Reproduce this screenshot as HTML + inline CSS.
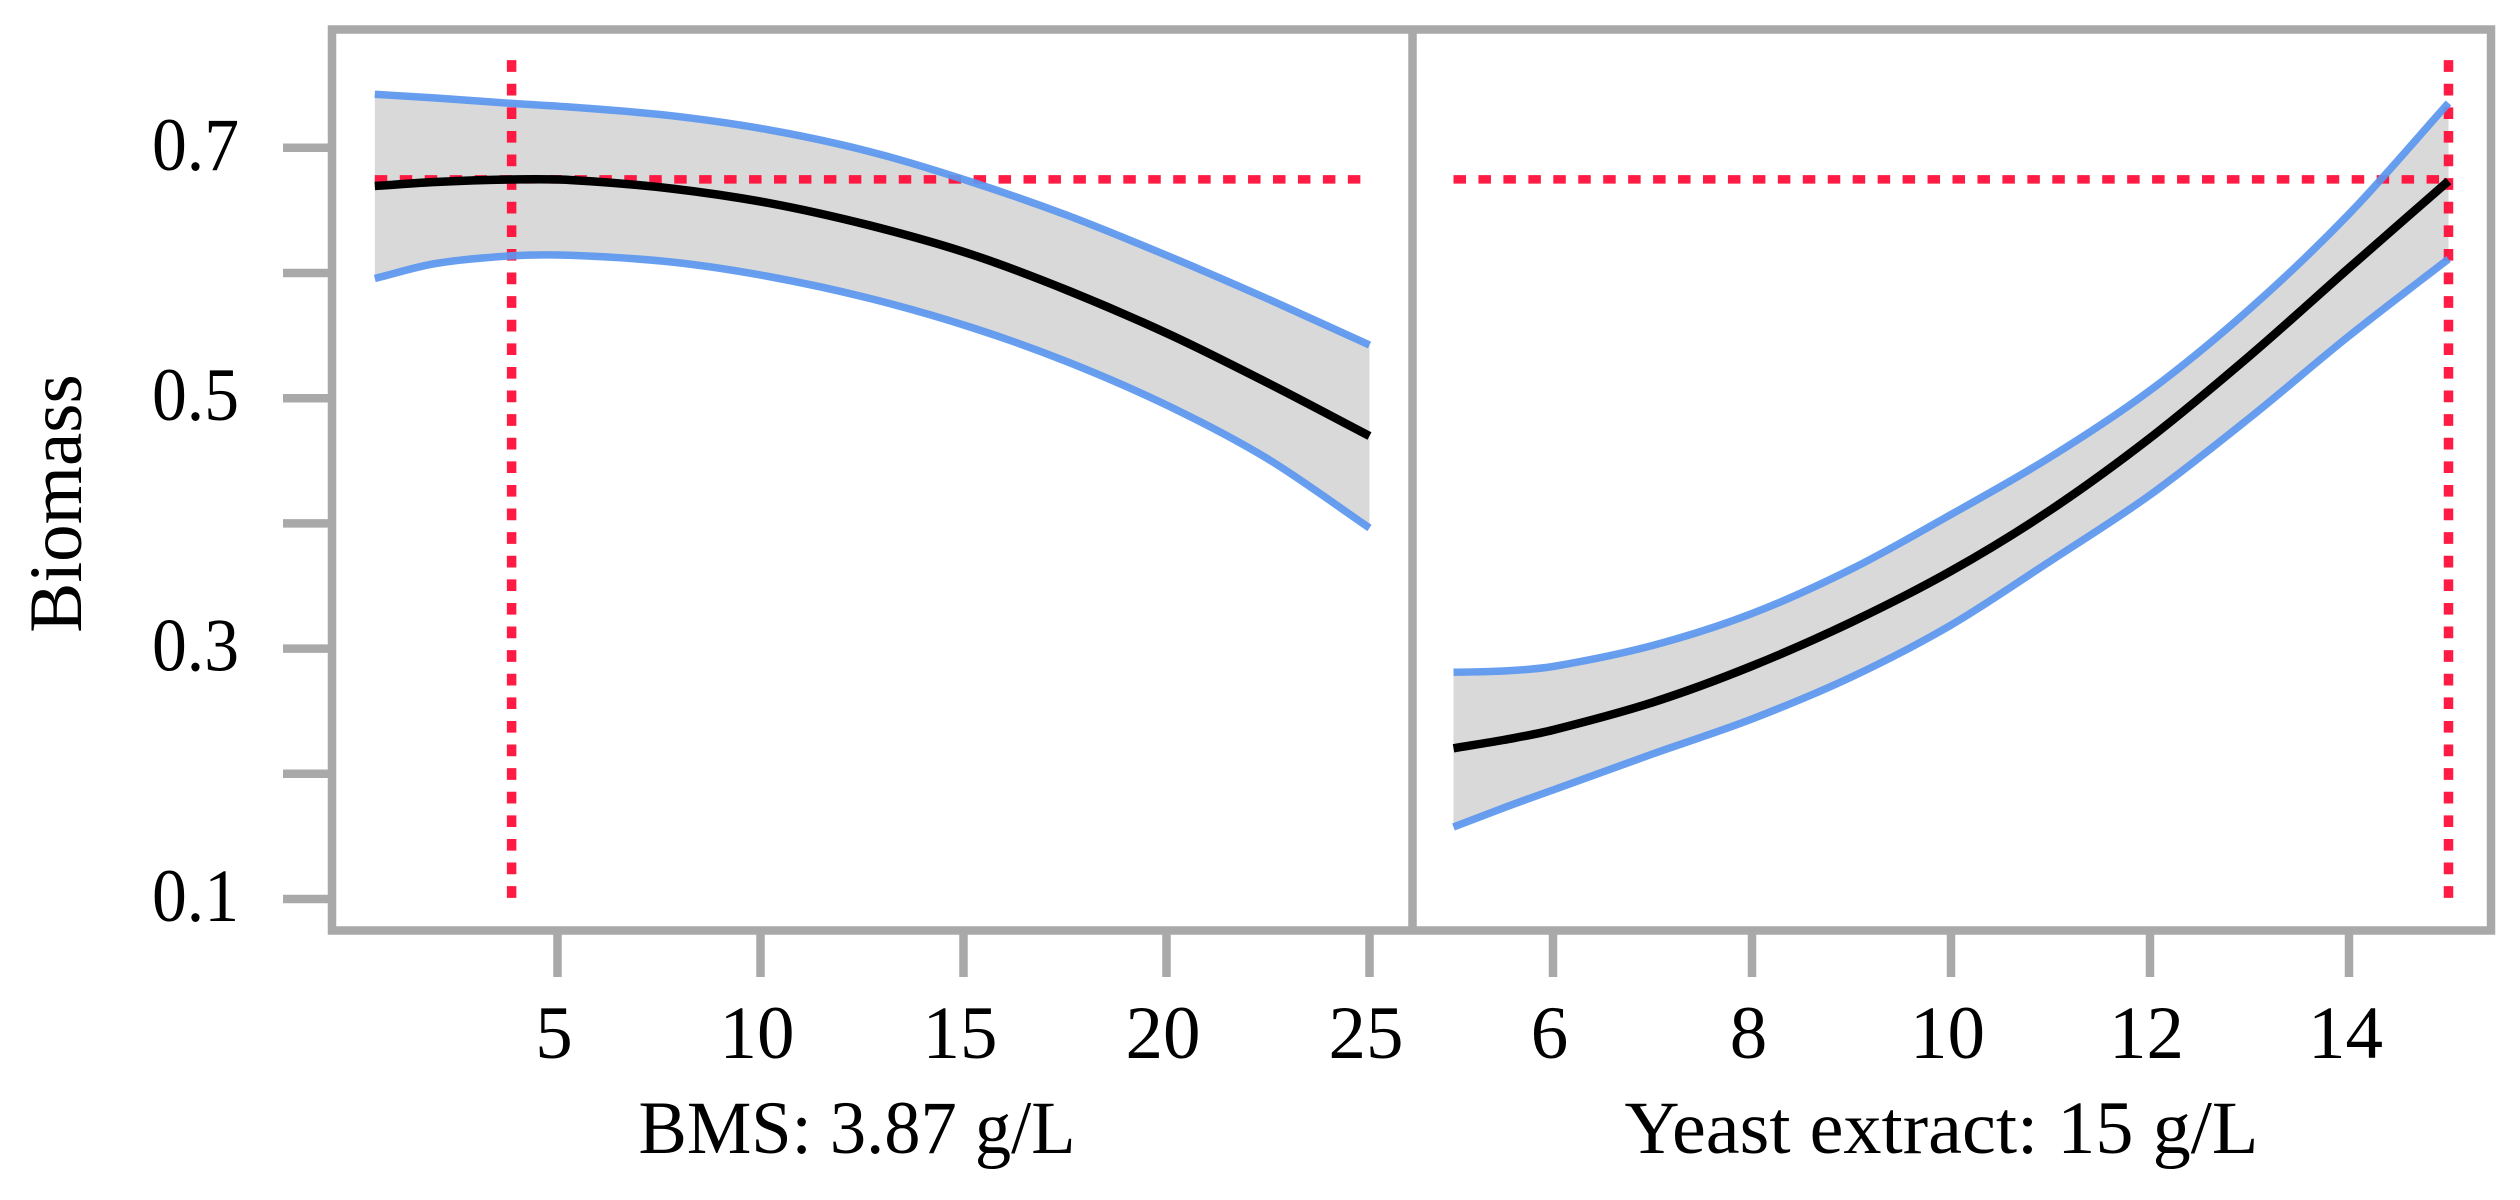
<!DOCTYPE html>
<html lang="en">
<head>
<meta charset="utf-8">
<title>Biomass prediction profiler</title>
<style>
html,body{margin:0;padding:0;background:#fff;width:2520px;height:1200px;overflow:hidden}
svg{display:block}
text{font-family:"Liberation Serif",serif;font-size:75px;fill:#000}
</style>
</head>
<body>
<svg id="chart" xmlns="http://www.w3.org/2000/svg" width="2520" height="1200" viewBox="0 0 2520 1200">
  <rect x="0" y="0" width="2520" height="1200" fill="#fff"/>
  <g id="marks"></g>
  <g id="axes"></g>
  <text transform="translate(81 503.5) rotate(-90)" text-anchor="middle">Biomass</text>
  <text x="638.5" y="1153" textLength="437" lengthAdjust="spacingAndGlyphs">BMS: 3.87 g/L</text>
  <text x="1624.5" y="1153" textLength="634" lengthAdjust="spacingAndGlyphs">Yeast extract: 15 g/L</text>
</svg>
<script>
const bmsValues = [0.5, 2, 3.87, 5.3, 7.8, 10.2, 12.7, 15.2, 17.6, 20.1, 22.5, 25];
const bmsUpper = [0.7427, 0.7398, 0.7355, 0.7326, 0.7256, 0.7144, 0.6969, 0.6727, 0.6455, 0.6128, 0.5792, 0.5425];
const bmsMean = [0.6695, 0.6727, 0.6747, 0.6743, 0.6675, 0.6559, 0.6379, 0.6148, 0.5856, 0.5505, 0.5121, 0.4698];
const bmsLower = [0.5956, 0.6076, 0.6137, 0.6141, 0.6088, 0.5972, 0.5796, 0.5565, 0.5285, 0.4930, 0.4514, 0.3963];

const yeastValues = [5, 5.5, 6, 7, 8, 9, 10, 11, 12, 13, 14, 15];
const yeastUpper = [0.2811, 0.2821, 0.2857, 0.3025, 0.3280, 0.3636, 0.4071, 0.4530, 0.5062, 0.5712, 0.6471, 0.7358];
const yeastMean = [0.2204, 0.2270, 0.2350, 0.2570, 0.2861, 0.3212, 0.3620, 0.4107, 0.4682, 0.5337, 0.6040, 0.6735];
const yeastLower = [0.1575, 0.1727, 0.1871, 0.2158, 0.2438, 0.2773, 0.3188, 0.3700, 0.4227, 0.4842, 0.5497, 0.6112];

const biomassTicks = [0.1, 0.2, 0.3, 0.4, 0.5, 0.6, 0.7];
const biomassTickLabels = ['0.1', '', '0.3', '', '0.5', '', '0.7'];
const bmsTicks = [5, 10, 15, 20, 25];
const yeastTicks = [6, 8, 10, 12, 14];

const optimumBiomass = 0.6748;
const optimumBms = 3.87;
const optimumYeast = 15;
const crosshairTop = 0.77;
const crosshairBottom = 0.1;

const NS = 'http://www.w3.org/2000/svg';
const yScale = v => 899 - (v - 0.1) * 1252;
const xBms = v => 963.5 + (v - 15) * 40.6;
const xYeast = v => 1951 + (v - 10) * 99.5;

const marks = document.getElementById('marks');
const axes = document.getElementById('axes');

function make(tag, attrs, parent) {
  const el = document.createElementNS(NS, tag);
  for (const k in attrs) el.setAttribute(k, attrs[k]);
  parent.appendChild(el);
  return el;
}

function smooth(xs, ys) {
  const n = xs.length;
  const m = xs.map((x, i) => {
    const a = Math.max(i - 1, 0), b = Math.min(i + 1, n - 1);
    return (ys[b] - ys[a]) / (xs[b] - xs[a]);
  });
  let d = 'M' + xs[0].toFixed(1) + ' ' + ys[0].toFixed(1);
  for (let i = 0; i < n - 1; i++) {
    const dx = xs[i + 1] - xs[i];
    const c1x = xs[i] + dx / 3, c1y = ys[i] + m[i] * dx / 3;
    const c2x = xs[i + 1] - dx / 3, c2y = ys[i + 1] - m[i + 1] * dx / 3;
    d += 'C' + c1x.toFixed(1) + ' ' + c1y.toFixed(1) + ' ' + c2x.toFixed(1) + ' ' + c2y.toFixed(1) + ' ' + xs[i + 1].toFixed(1) + ' ' + ys[i + 1].toFixed(1);
  }
  return d;
}

function bandPath(xs, upper, lower) {
  const up = smooth(xs, upper);
  const rx = xs.slice().reverse(), rl = lower.slice().reverse();
  return up + 'L' + rx[0].toFixed(1) + ' ' + rl[0].toFixed(1) + smooth(rx, rl).replace(/^M[^C]*/, '') + 'Z';
}

const blue = {fill: 'none', stroke: '#5b97ee', 'stroke-width': 7.5, 'stroke-opacity': 0.93};
const black = {fill: 'none', stroke: '#000', 'stroke-width': 8.5};
const redColor = '#ff0f3a';

/* BMS panel */
const bmsX = bmsValues.map(xBms);
const bmsBand = make('path', {d: bandPath(bmsX, bmsUpper.map(yScale), bmsLower.map(yScale)), fill: '#d9d9d9'}, marks);



const bmsHLine = make('line', {x1: xBms(bmsValues[0]), x2: xBms(bmsValues[bmsValues.length - 1]), y1: yScale(optimumBiomass), y2: yScale(optimumBiomass), stroke: redColor, 'stroke-opacity': 0.95, 'stroke-width': 8.5, 'stroke-dasharray': '12.5 12.45'}, marks);



const bmsVLine = make('line', {x1: xBms(optimumBms), x2: xBms(optimumBms), y1: yScale(crosshairTop), y2: yScale(crosshairBottom), stroke: redColor, 'stroke-opacity': 0.95, 'stroke-width': 9.5, 'stroke-dasharray': '11.7 11.9'}, marks);



const bmsUpperLine = make('path', Object.assign({d: smooth(bmsX, bmsUpper.map(yScale))}, blue), marks);



const bmsLowerLine = make('path', Object.assign({d: smooth(bmsX, bmsLower.map(yScale))}, blue), marks);



const bmsMeanLine = make('path', Object.assign({d: smooth(bmsX, bmsMean.map(yScale))}, black), marks);



/* Yeast panel */
const yeastX = yeastValues.map(xYeast);
const yeastBand = make('path', {d: bandPath(yeastX, yeastUpper.map(yScale), yeastLower.map(yScale)), fill: '#d9d9d9'}, marks);



const yeastHLine = make('line', {x1: xYeast(yeastValues[0]), x2: xYeast(yeastValues[yeastValues.length - 1]), y1: yScale(optimumBiomass), y2: yScale(optimumBiomass), stroke: redColor, 'stroke-opacity': 0.95, 'stroke-width': 8.5, 'stroke-dasharray': '12.5 12.45'}, marks);



const yeastVLine = make('line', {x1: xYeast(optimumYeast), x2: xYeast(optimumYeast), y1: yScale(crosshairTop), y2: yScale(crosshairBottom), stroke: redColor, 'stroke-opacity': 0.95, 'stroke-width': 9.5, 'stroke-dasharray': '11.7 11.9'}, marks);



const yeastUpperLine = make('path', Object.assign({d: smooth(yeastX, yeastUpper.map(yScale))}, blue), marks);



const yeastLowerLine = make('path', Object.assign({d: smooth(yeastX, yeastLower.map(yScale))}, blue), marks);



const yeastMeanLine = make('path', Object.assign({d: smooth(yeastX, yeastMean.map(yScale))}, black), marks);



/* Frame and divider */
const frame = make('rect', {x: 332, y: 29.5, width: 2159, height: 901, fill: 'none', stroke: '#a9a9a9', 'stroke-width': 8.5}, axes);



const divider = make('line', {x1: 1412.5, x2: 1412.5, y1: 29.5, y2: 930.5, stroke: '#a9a9a9', 'stroke-width': 8.5}, axes);



/* Y axis */
biomassTicks.forEach((v, i) => {
  const tick = make('line', {x1: 283, x2: 330, y1: yScale(v), y2: yScale(v), stroke: '#a9a9a9', 'stroke-width': 8.5}, axes);
  
  
  if (biomassTickLabels[i]) {
    const label = make('text', {x: 152, y: yScale(v) + 22, textLength: 87, lengthAdjust: 'spacingAndGlyphs'}, axes);
    label.textContent = biomassTickLabels[i];
    
    
  }
});

/* X axes */
function drawXTicks(ticks, scale, prefix) {
  ticks.forEach(v => {
    const tick = make('line', {x1: scale(v), x2: scale(v), y1: 934, y2: 977, stroke: '#a9a9a9', 'stroke-width': 8.5}, axes);
    
    
    const label = make('text', {x: scale(v) - 3.5, y: 1058, 'text-anchor': 'middle'}, axes);
    label.textContent = String(v);
    
    
  });
}
drawXTicks(bmsTicks, xBms, 'bms');
drawXTicks(yeastTicks, xYeast, 'yeast');
</script>
</body>
</html>
